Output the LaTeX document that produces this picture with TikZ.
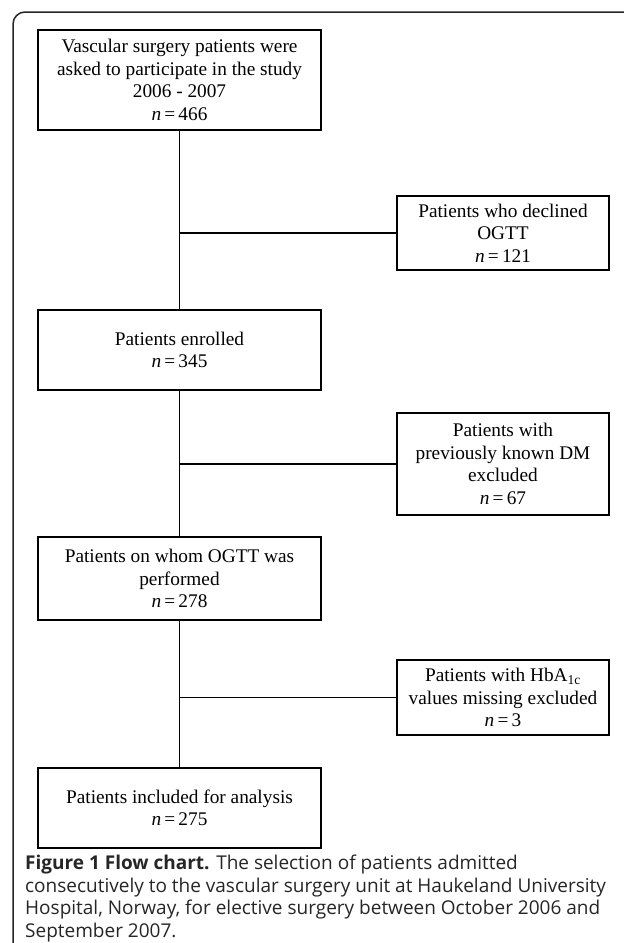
\documentclass[tikz,border=0pt]{standalone}
\usepackage{fontspec}
\setmainfont{Liberation Serif}
\newfontfamily\capfont{Open Sans}
\tikzset{
  bigbox/.style={draw=black, line width=1.2pt, minimum width=283pt, align=center, inner sep=0pt,
    font=\fontsize{19.3}{22.5}\selectfont},
  sidebox/.style={draw=black, line width=1.2pt, minimum width=212pt, align=center, inner sep=0pt,
    font=\fontsize{19.3}{22.5}\selectfont},
  conn/.style={draw=black, line width=1.2pt}
}
\newcommand{\nn}[1]{\textit{n}\,=\,#1}
\begin{document}
\begin{tikzpicture}[x=1pt,y=-1pt]
\useasboundingbox (0,0) rectangle (624,943);
\fill[white] (0,0) rectangle (624,943);
\draw[line width=1.5pt, black!85, rounded corners=12pt] (13,980) -- (13,12) -- (660,12);

\node[bigbox, minimum height=100pt] (b1) at (179.5,80) {Vascular surgery patients were\\asked to participate in the study\\2006 - 2007\\\nn{466}};
\node[sidebox, minimum height=74pt] (b2) at (503,233) {Patients who declined\\OGTT\\\nn{121}};
\node[bigbox, minimum height=80pt] (b3) at (179.5,350) {Patients enrolled\\\nn{345}};
\node[sidebox, minimum height=102pt] (b4) at (503,464) {Patients with\\previously known DM\\excluded\\\nn{67}};
\node[bigbox, minimum height=83pt] (b5) at (179.5,578.5) {Patients on whom OGTT was\\performed\\\nn{278}};
\node[sidebox, minimum height=75pt] (b6) at (503,697.5) {Patients with HbA\textsubscript{1c}\\values missing excluded\\\nn{3}};
\node[bigbox, minimum height=80pt] (b7) at (179.5,808) {Patients included for analysis\\\nn{275}};

\draw[conn] (b1.south) -- (b3.north);
\draw[conn] (b3.south) -- (b5.north);
\draw[conn] (b5.south) -- (b7.north);
\draw[conn] (b2.west) -- (b2.west -| b1.south);
\draw[conn] (b4.west) -- (b4.west -| b1.south);
\draw[conn] (b6.west) -- (b6.west -| b1.south);

\node[anchor=north west, inner sep=0pt, align=left, text=black!85,
  font=\capfont\fontsize{19}{22.5}\selectfont] (cap) at (25,855)
  {\textbf{Figure 1 Flow chart.} The selection of patients admitted\\
   consecutively to the vascular surgery unit at Haukeland University\\
   Hospital, Norway, for elective surgery between October 2006 and\\
   September 2007.};
\end{tikzpicture}
\end{document}
